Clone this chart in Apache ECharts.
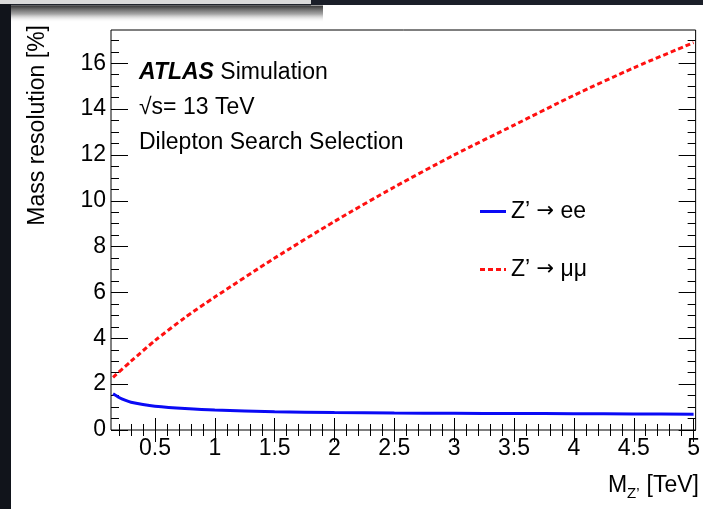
<!DOCTYPE html>
<html>
<head>
<meta charset="utf-8">
<script src="https://cdn.jsdelivr.net/npm/echarts@6.0.0/dist/echarts.min.js"></script>
<style>
  html, body { margin: 0; padding: 0; background: #ffffff; }
  #chart { width: 703px; height: 509px; }
</style>
</head>
<body>
<div id="chart"></div>
<script>
// Z' mass points [TeV] and relative mass resolution [%]
const massEE   = [0.15, 0.2, 0.25, 0.3, 0.4, 0.5, 0.75, 1.0, 1.5, 2.0, 2.5, 3.0, 3.5, 4.0, 4.5, 5.0];
const resEE    = [1.58, 1.42, 1.30, 1.21, 1.11, 1.04, 0.94, 0.87, 0.80, 0.76, 0.74, 0.73, 0.72, 0.71, 0.70, 0.69];
const massMuMu = [0.15, 0.3, 0.5, 0.75, 1.0, 1.5, 2.0, 2.5, 3.0, 3.5, 4.0, 4.5, 5.0];
const resMuMu  = [2.3, 3.0, 3.9, 4.9, 5.8, 7.5, 9.1, 10.6, 12.0, 13.3, 14.6, 15.8, 16.9];

const seriesNames = ['Z\u2019 \u2192 ee', 'Z\u2019 \u2192 \u03bc\u03bc'];

// Axis ranges and tick positions
const X_MIN = 0.133, X_MAX = 5.017;
const Y_MIN = 0, Y_MAX = 17.45;
const xMajorTicks = [0.5, 1, 1.5, 2, 2.5, 3, 3.5, 4, 4.5, 5];
const yMajorTicks = [0, 2, 4, 6, 8, 10, 12, 14, 16];

const xMinorTicks = [];
for (let k = 2; k <= 50; k++) xMinorTicks.push(k / 10);
const yMinorTicks = [];
for (let k = 0; k <= 34; k++) yMinorTicks.push(k / 2);

const FONT = '"Liberation Sans", Arial, Helvetica, sans-serif';
const FS = 23;
const tickLine = { color: '#000', width: 1 };

function xAxisDef(position, ticks, len, labels) {
  return {
    type: 'value', min: X_MIN, max: X_MAX, position: position,
    axisLine: { show: false }, splitLine: { show: false },
    axisTick: { show: true, inside: true, length: len, customValues: ticks, lineStyle: tickLine },
    axisLabel: labels ? {
      show: true, customValues: ticks, margin: 7, color: '#000',
      fontFamily: FONT, fontSize: FS
    } : { show: false }
  };
}
function yAxisDef(position, ticks, len, labels) {
  return {
    type: 'value', min: Y_MIN, max: Y_MAX, position: position,
    axisLine: { show: false }, splitLine: { show: false },
    axisTick: { show: true, inside: true, length: len, customValues: ticks, lineStyle: tickLine },
    axisLabel: labels ? {
      show: true, customValues: ticks, margin: 5, color: '#000',
      fontFamily: FONT, fontSize: FS
    } : { show: false }
  };
}

// legend glyphs: solid bar and a short dotted bar
const solidIcon  = 'path://M0,0H26V3H0Z';
const dottedIcon = 'path://M0,0H5V3H0Z M8,0H13V3H8Z M16,0H21V3H16Z M24,0H26V3H24Z';

const chart = echarts.init(document.getElementById('chart'), null, { renderer: 'canvas' });

chart.setOption({
  animation: false,
  backgroundColor: '#ffffff',
  grid: {
    left: 111, right: 6, top: 30, bottom: 79,
    show: true, borderColor: '#000', borderWidth: 1, backgroundColor: 'transparent'
  },
  xAxis: [
    xAxisDef('bottom', xMajorTicks, 12, true),
    xAxisDef('bottom', xMinorTicks, 6, false),
    xAxisDef('top', xMajorTicks, 12, false),
    xAxisDef('top', xMinorTicks, 6, false)
  ],
  yAxis: [
    yAxisDef('left', yMajorTicks, 17, true),
    yAxisDef('left', yMinorTicks, 8, false),
    yAxisDef('right', yMajorTicks, 17, false),
    yAxisDef('right', yMinorTicks, 8, false)
  ],
  legend: {
    orient: 'vertical', left: 480, top: 200, padding: 0,
    itemWidth: 26, itemHeight: 3, itemGap: 35,
    formatter: name => name.replace('\u2192', '{a|\u2192}'),
    textStyle: {
      fontFamily: FONT, fontSize: FS, color: '#000',
      rich: { a: { fontFamily: '"DejaVu Sans"', fontSize: 21, color: '#000' } }
    },
    data: [
      { name: seriesNames[0], icon: solidIcon, itemStyle: { color: '#0a0af5' } },
      { name: seriesNames[1], icon: dottedIcon, itemStyle: { color: '#ff1010' } }
    ]
  },
  series: [
    {
      name: seriesNames[0], type: 'line', symbol: 'none', smooth: 0.25,
      data: massEE.map((m, i) => [m, resEE[i]]),
      lineStyle: { color: '#0a0af5', width: 3 }, itemStyle: { color: '#0a0af5' }, z: 3
    },
    {
      name: seriesNames[1], type: 'line', symbol: 'none', smooth: 0.25,
      data: massMuMu.map((m, i) => [m, resMuMu[i]]),
      lineStyle: { color: '#ff1010', width: 3, type: [5, 3], cap: 'butt' }, itemStyle: { color: '#ff1010' }, z: 3
    }
  ],
  graphic: [
    // window frame around the plot
    { type: 'rect', shape: { x: 0, y: 0, width: 311, height: 4 }, style: { fill: '#d9d9d9' }, silent: true },
    { type: 'rect', shape: { x: 0, y: 4, width: 311, height: 1.5 }, style: { fill: '#1f232b' }, silent: true },
    { type: 'rect', shape: { x: 311, y: 0, width: 392, height: 5 }, style: { fill: '#1b1f29' }, silent: true },
    { type: 'rect', shape: { x: 0, y: 4, width: 11, height: 505 }, style: { fill: '#11141b' }, silent: true },
    {
      type: 'rect', shape: { x: 11, y: 5.5, width: 312, height: 17 }, silent: true,
      style: { fill: new echarts.graphic.LinearGradient(0, 0, 0, 1, [
        { offset: 0, color: 'rgba(40,40,40,0.95)' },
        { offset: 0.5, color: 'rgba(90,90,90,0.55)' },
        { offset: 1, color: 'rgba(255,255,255,0)' }
      ]) }
    },
    // labels inside the plot
    {
      type: 'text', x: 139, y: 84, silent: true,
      style: {
        text: '{b|ATLAS} Simulation', fontFamily: FONT, fontSize: FS, fill: '#000',
        verticalAlign: 'bottom',
        rich: { b: { fontFamily: FONT, fontSize: FS, fontWeight: 'bold', fontStyle: 'italic', fill: '#000' } }
      }
    },
    {
      type: 'text', x: 139, y: 119, silent: true,
      style: { text: '\u221as= 13 TeV', fontFamily: FONT, fontSize: FS, fill: '#000', verticalAlign: 'bottom' }
    },
    {
      type: 'text', x: 139, y: 154, silent: true,
      style: { text: 'Dilepton Search Selection', fontFamily: FONT, fontSize: FS, fill: '#000', verticalAlign: 'bottom' }
    },
    // y axis title
    {
      type: 'text', x: 38, y: 25, rotation: Math.PI / 2, silent: true,
      style: { text: 'Mass resolution [%]', fontFamily: FONT, fontSize: FS, fill: '#000', align: 'right', verticalAlign: 'middle' }
    },
    // x axis title: M with subscript Z'
    {
      type: 'text', x: 608, y: 497, silent: true,
      style: { text: 'M', fontFamily: FONT, fontSize: FS, fill: '#000', align: 'left', verticalAlign: 'bottom' }
    },
    {
      type: 'text', x: 627, y: 501, silent: true,
      style: { text: 'Z\u2019', fontFamily: FONT, fontSize: 15, fill: '#000', align: 'left', verticalAlign: 'bottom' }
    },
    {
      type: 'text', x: 699, y: 497, silent: true,
      style: { text: '[TeV]', fontFamily: FONT, fontSize: FS, fill: '#000', align: 'right', verticalAlign: 'bottom' }
    }
  ]
});
</script>
</body>
</html>
